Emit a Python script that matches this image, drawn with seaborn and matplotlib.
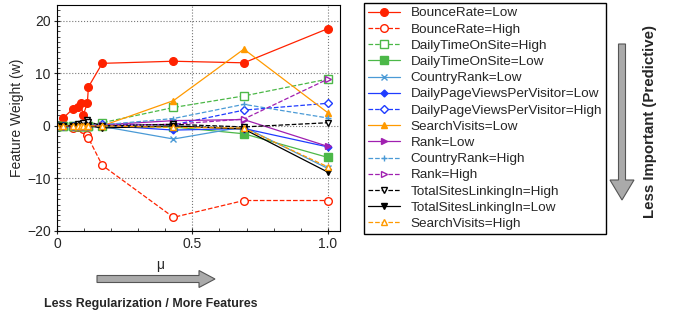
import matplotlib
matplotlib.use("Agg")
import matplotlib.pyplot as plt
import seaborn as sns
from matplotlib.patches import FancyArrow
from matplotlib.transforms import IdentityTransform
from matplotlib.ticker import MultipleLocator

# ── Data ─────────────────────────────────────────────────────────────────────
mu = [0, 0.023, 0.058, 0.079, 0.087, 0.097, 0.112, 0.116, 0.167, 0.43, 0.69, 1.0]

bounce_low      = [0, 1.5, 3.2, 3.5, 4.3, 2.1, 4.3, 7.4, 11.9, 12.3, 12.0, 18.5]
bounce_high     = [0, 0, -0.4, -0.3, -0.2, -0.5, -1.7, -2.3, -7.5, -17.4, -14.2, -14.2]
time_high       = [0, 0, 0, 0, 0, 0, 0, 0, 0.6, 3.5, 5.7, 8.9]
time_low        = [0, 0, 0, 0, 0, 0, 0, 0, -0.1, -0.2, -1.5, -6.0]
crank_low       = [0, 0, 0, 0, 0, 0, 0, 0, -0.1, -2.5, -0.2, -8.1]
pageviews_low   = [0, 0, 0, 0, 0, 0, 0, 0, 0.1, -0.8, -0.5, -4.0]
pageviews_high  = [0, 0, 0, 0, 0, 0, 0, 0, 0.3, 0.2, 3.0, 4.3]
search_low      = [0, 0, 0, 0, 0, 0, 0, 0, 0, 4.8, 14.6, 2.5]
rank_low        = [0, 0, 0, 0, 0, 0, 0, 0, 0.2, 1.0, 1.2, -3.9]
crank_high      = [0, 0, 0, 0, 0, 0, 0, 0, 0.2, 1.4, 4.1, 1.5]
rank_high       = [0, 0, 0, 0, 0, 0, 0, 0, 0.1, 0.3, 1.3, 8.9]
links_high      = [0, 0, 0, 0.3, 0.4, 0.5, 1.2, 0.8, 0, 0.3, -0.2, 0.6]
links_low       = [0, 0, 0, 0, 0, 0, 0, 0, -0.4, 0, -0.6, -8.8]
search_high     = [0, 0, 0, 0, 0, 0, 0, 0, 0, -0.3, -0.4, -7.8]

RED, GREEN, LBLUE, BLUE = "#ff2200", "#4cb848", "#4a9ad6", "#1f3cff"
ORANGE, PURPLE, BLACK = "#ff9a00", "#a020b0", "#000000"

# (label, values, colour, marker, linestyle, filled, markersize)
series = [
    ("BounceRate=Low",                bounce_low,     RED,    "o", "-",  True,  5.5),
    ("BounceRate=High",               bounce_high,    RED,    "o", "--", False, 5.5),
    ("DailyTimeOnSite=High",          time_high,      GREEN,  "s", "--", False, 5.5),
    ("DailyTimeOnSite=Low",           time_low,       GREEN,  "s", "-",  True,  5.5),
    ("CountryRank=Low",               crank_low,      LBLUE,  "x", "-",  True,  4),
    ("DailyPageViewsPerVisitor=Low",  pageviews_low,  BLUE,   "D", "-",  True,  3.5),
    ("DailyPageViewsPerVisitor=High", pageviews_high, BLUE,   "D", "--", False, 4.5),
    ("SearchVisits=Low",              search_low,     ORANGE, "^", "-",  True,  4),
    ("Rank=Low",                      rank_low,       PURPLE, ">", "-",  True,  4),
    ("CountryRank=High",              crank_high,     LBLUE,  "+", "--", True,  5),
    ("Rank=High",                     rank_high,      PURPLE, ">", "--", False, 5),
    ("TotalSitesLinkingIn=High",      links_high,     BLACK,  "v", "--", False, 5),
    ("TotalSitesLinkingIn=Low",       links_low,      BLACK,  "v", "-",  True,  4),
    ("SearchVisits=High",             search_high,    ORANGE, "^", "--", False, 5),
]

sns.set_style("white")
plt.rcParams["font.family"] = ["Liberation Sans", "DejaVu Sans"]
plt.rcParams["font.size"] = 10

fig = plt.figure(figsize=(6.79, 3.20), dpi=100)
ax = fig.add_axes([57 / 679, 89 / 320, 283 / 679, 226 / 320])

for label, vals, color, marker, ls, filled, ms in series:
    sns.lineplot(
        x=mu, y=vals, ax=ax, sort=False, label=label,
        color=color, linestyle=ls, linewidth=0.9,
        marker=marker, markersize=ms,
        markerfacecolor=color if filled else "white",
        markeredgecolor=color, markeredgewidth=1.0,
        dashes=(3, 2) if ls == "--" else "",
    )

leg = ax.get_legend()
if leg is not None:
    leg.remove()

ax.set_xlim(0, 1.045)
ax.set_ylim(-20, 23)
ax.set_xticks([0, 0.5, 1.0])
ax.set_xticklabels(["0", "0.5", "1.0"])
ax.set_yticks([-20, -10, 0, 10, 20])
ax.xaxis.set_minor_locator(MultipleLocator(0.1))
ax.yaxis.set_minor_locator(MultipleLocator(1))
ax.tick_params(which="major", direction="inout", length=5, width=0.8, labelsize=10, pad=2)
ax.tick_params(which="minor", direction="in", length=2.5, width=0.6)
ax.tick_params(bottom=True, left=True, which="both")
ax.grid(True, which="major", linestyle=":", color="#777777", linewidth=0.8)
for s in ax.spines.values():
    s.set_color("black")
    s.set_linewidth(0.8)
ax.set_ylabel("Feature Weight (w)", fontsize=10, labelpad=2)
ax.set_xlabel("")

handles, labels = ax.get_legend_handles_labels()
fig.legend(
    handles, labels, loc="upper left",
    bbox_to_anchor=(364 / 679, 1 - 3 / 320),
    frameon=True, fancybox=False, edgecolor="black", framealpha=1,
    fontsize=9.7, handlelength=2.4, handletextpad=0.75,
    labelspacing=0.28, borderpad=0.3, borderaxespad=0,
)

# annotations and arrows (pixel coordinates, origin bottom-left)
fig.text(160 / 679, 1 - 265 / 320, "μ", ha="center", va="center", fontsize=10)
fig.text(151 / 679, 1 - 304 / 320, "Less Regularization / More Features",
         ha="center", va="center", fontsize=8.9, fontweight="bold")
fig.text(650 / 679, 1 - 121 / 320, "Less Important (Predictive)",
         ha="center", va="center", rotation=90, fontsize=10.8, fontweight="bold")

arrow_kw = dict(facecolor="#aaaaaa", edgecolor="#555555", linewidth=0.8,
                length_includes_head=True, transform=IdentityTransform())
fig.add_artist(FancyArrow(97, 320 - 279, 118, 0, width=7, head_width=17,
                          head_length=16, **arrow_kw))
fig.add_artist(FancyArrow(622, 320 - 44, 0, -156, width=7, head_width=24,
                          head_length=20, **arrow_kw))

fig.savefig("out.png", dpi=100)
